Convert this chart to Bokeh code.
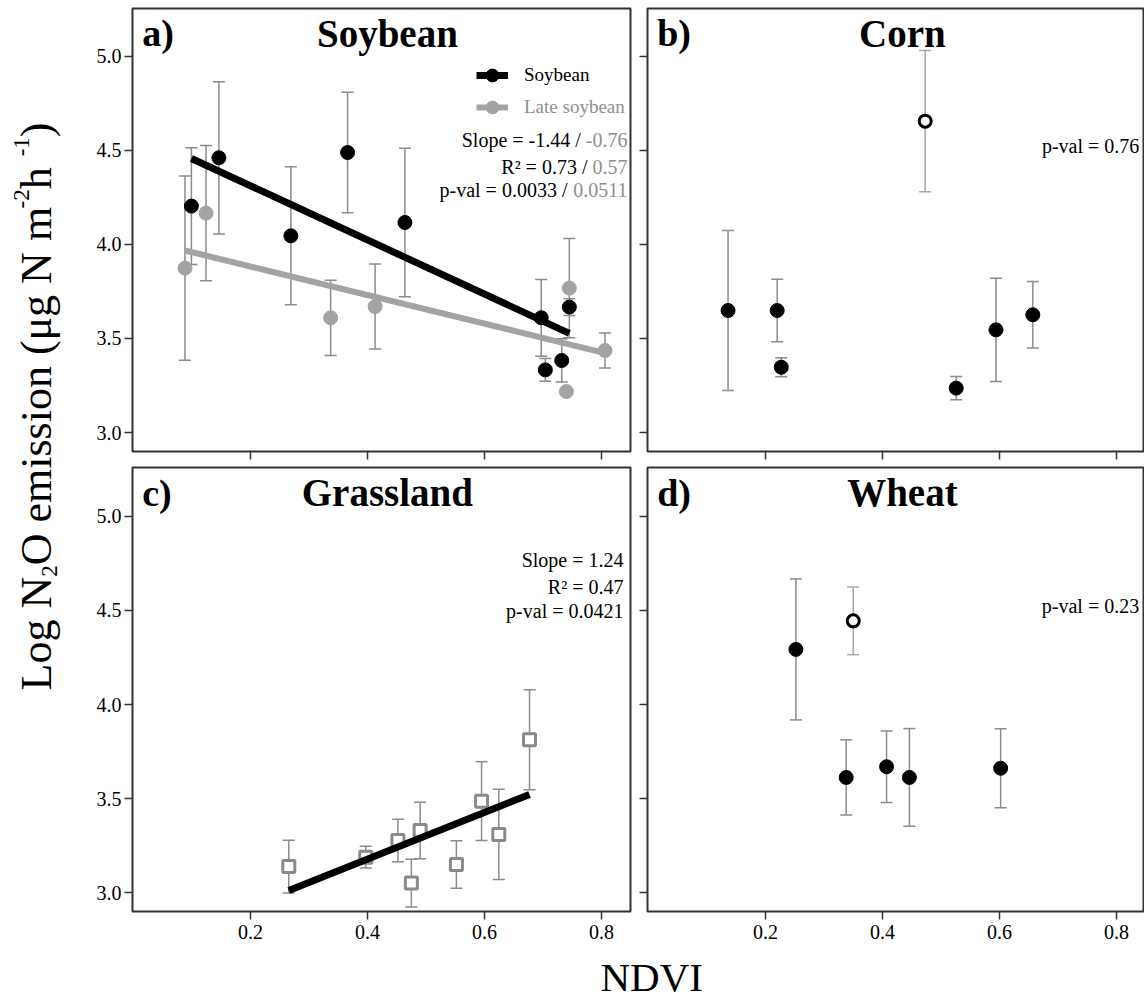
import math
from bokeh.plotting import figure
from bokeh.models import (Range1d, FixedTicker, PrintfTickFormatter, Whisker, TeeHead,
                          ColumnDataSource, Legend, LegendItem)
from bokeh.layouts import row, column
from bokeh.core.properties import value
from bokeh.embed import file_html
from bokeh.resources import INLINE

# ---------------- data ----------------
X_TICKS = [0.2, 0.4, 0.6, 0.8]
Y_TICKS = [3.0, 3.5, 4.0, 4.5, 5.0]

SOY_X = [0.099, 0.146, 0.269, 0.366, 0.464, 0.697, 0.704, 0.732, 0.745]
SOY_Y = [4.204, 4.461, 4.046, 4.489, 4.117, 3.610, 3.333, 3.383, 3.667]
SOY_E = [0.310, 0.405, 0.367, 0.320, 0.395, 0.204, 0.060, 0.115, 0.045]

LATE_X = [0.088, 0.124, 0.337, 0.413, 0.745, 0.740, 0.806]
LATE_Y = [3.874, 4.167, 3.610, 3.670, 3.768, 3.218, 3.436]
LATE_E = [0.490, 0.360, 0.200, 0.226, 0.264, 0.000, 0.093]

CORN_X = [0.136, 0.220, 0.227, 0.526, 0.594, 0.657]
CORN_Y = [3.649, 3.649, 3.347, 3.236, 3.546, 3.626]
CORN_E = [0.425, 0.166, 0.050, 0.062, 0.275, 0.177]
CORN_OUT_X = [0.473]
CORN_OUT_Y = [4.656]
CORN_OUT_E = [0.376]

GRASS_X = [0.2655, 0.397, 0.452, 0.490, 0.475, 0.552, 0.595, 0.6245, 0.677]
GRASS_Y = [3.138, 3.188, 3.277, 3.330, 3.050, 3.149, 3.486, 3.309, 3.812]
GRASS_E = [0.140, 0.058, 0.113, 0.150, 0.127, 0.126, 0.210, 0.240, 0.266]

WHEAT_X = [0.252, 0.338, 0.407, 0.446, 0.602]
WHEAT_Y = [4.293, 3.612, 3.669, 3.612, 3.661]
WHEAT_E = [0.375, 0.200, 0.190, 0.260, 0.210]
WHEAT_OUT_X = [0.350]
WHEAT_OUT_Y = [4.445]
WHEAT_OUT_E = [0.180]

# regression fits (slope, intercept)
SOY_FIT = (-1.44, 4.600)
LATE_FIT = (-0.76, 4.035)
GRASS_FIT = (1.24, 2.682)

TITLES = ["Soybean", "Corn", "Grassland", "Wheat"]
LETTERS = ["a)", "b)", "c)", "d)"]
LEGEND_LABELS = ["Soybean", "Late soybean"]
STATS_A_BLACK = ["Slope = -1.44 / ", "R\u00b2 = 0.73 / ", "p-val = 0.0033 / "]
STATS_A_GRAY = ["-0.76", "0.57", "0.0511"]
STATS_C = ["Slope = 1.24", "R\u00b2 = 0.47", "p-val = 0.0421"]
PVAL_B = ["p-val = 0.76"]
PVAL_D = ["p-val = 0.23"]
Y_LABEL_PARTS = [("Log N", "n"), ("2", "sub"), ("O emission (\u03bcg N m", "n"),
                 ("-2", "sup"), (" h", "n"), ("-1", "sup"), (")", "n")]
X_LABEL = ["NDVI"]

# ---------------- style ----------------
FONT = "Liberation Serif"
GRAY_PT = "#a3a3a3"
GRAY_TXT = "#8f8f8f"
ERR_C = "#8c8c8c"
FRAME_C = "#333333"
ANN_SIZE = 20
MID = 0.3375  # distance (in em) from the alphabetic baseline to the "middle" line

WIDTHS = {' ': 250, '.': 250, '-': 333, '/': 278, '=': 564, '(': 333, ')': 333,
          'L': 611, 'o': 500, 'g': 500, 'N': 722, 'O': 722, 'e': 444, 'm': 778,
          'i': 278, 's': 389, 'n': 500, '\u03bc': 500, 'h': 500}
for d in "0123456789":
    WIDTHS[d] = 500


def tw(s, size):
    return sum(WIDTHS.get(c, 500) for c in s) * size / 1000.0


def panel(width, height, lb, rb, tb, bb, xr, yr, show):
    p = figure(width=width, height=height, x_range=Range1d(*xr), y_range=Range1d(*yr),
               min_border_left=lb, min_border_right=rb, min_border_top=tb,
               min_border_bottom=bb, output_backend="svg", toolbar_location=None,
               tools="", background_fill_color="white", border_fill_color="white")
    p.xgrid.visible = False
    p.ygrid.visible = False
    p.outline_line_color = FRAME_C
    p.outline_line_width = 2
    p.xaxis.ticker = FixedTicker(ticks=X_TICKS)
    p.yaxis.ticker = FixedTicker(ticks=Y_TICKS)
    p.xaxis.formatter = PrintfTickFormatter(format="%.1f")
    p.yaxis.formatter = PrintfTickFormatter(format="%.1f")
    for ax in (p.xaxis[0], p.yaxis[0]):
        ax.axis_line_color = None
        ax.major_tick_out = 8
        ax.major_tick_in = 0
        ax.minor_tick_line_color = None
        ax.major_tick_line_color = FRAME_C
        ax.major_tick_line_width = 1.5
        ax.major_label_text_font = FONT
        ax.major_label_text_font_size = "20px"
        ax.major_label_text_color = "black"
    p.xaxis.major_label_standoff = 5
    p.yaxis.major_label_standoff = 3
    # sides that carry ticks only: labels are not painted at all
    for ax, keep in ((p.xaxis[0], show[0]), (p.yaxis[0], show[1])):
        if not keep:
            ax.major_label_text_color = None
            ax.major_label_text_font_size = "1px"
            ax.major_label_standoff = 0
    return p


def errbars(p, xs, ys, es, color=ERR_C):
    src = ColumnDataSource(dict(x=xs, upper=[y + e for y, e in zip(ys, es)],
                                lower=[y - e for y, e in zip(ys, es)]))
    w = Whisker(source=src, base="x", upper="upper", lower="lower",
                line_color=color, line_width=1.5, level="underlay",
                upper_head=TeeHead(size=12, line_color=color, line_width=1.5),
                lower_head=TeeHead(size=12, line_color=color, line_width=1.5))
    p.add_layout(w)


def fit_line(p, xs, fit, color, lw):
    m, b = fit
    lx = [min(xs), max(xs)]
    ly = [b + m * x for x in lx]
    return p.line(lx, ly, line_color=color, line_width=lw)


def heading(p, i, y):
    p.text(x=[0.0149], y=[y], text=[LETTERS[i]], text_font=value(FONT),
           text_font_size=value("38px"), text_font_style="bold", text_color="black",
           text_align="left", text_baseline="middle")
    p.text(x=[0.434], y=[y], text=[TITLES[i]], text_font=value(FONT),
           text_font_size=value("39px"), text_font_style="bold", text_color="black",
           text_align="center", text_baseline="middle")


def ann(p, x, ys, texts, color="black", xoff=None):
    src = ColumnDataSource(dict(x=[x] * len(ys), y=ys, t=texts,
                                o=xoff if xoff is not None else [0] * len(ys)))
    p.text(x="x", y="y", text="t", source=src, x_offset="o", text_font=value(FONT),
           text_font_size=value("%spx" % ANN_SIZE), text_color=color,
           text_align="right", text_baseline="middle")


XR_L = (-0.0017, 0.8496)
XR_R = (-0.0017, 0.8479)
YR_T = (2.899, 5.255)
YR_B = (2.899, 5.2606)

TOP_H = 460          # figure heights of the top row
BOT_H = 7 + 444 + 38  # figure heights of the bottom row
FULL_H = 1000

# ---------------- panel a ----------------
fa = panel(555, TOP_H, 52, 5, 8, 9, XR_L, YR_T, (False, True))
errbars(fa, SOY_X, SOY_Y, SOY_E)
errbars(fa, LATE_X, LATE_Y, LATE_E)
l_late = fit_line(fa, LATE_X, LATE_FIT, GRAY_PT, 6)
l_soy = fit_line(fa, SOY_X, SOY_FIT, "black", 7)
s_late = fa.scatter(LATE_X, LATE_Y, size=14, fill_color=GRAY_PT, line_color=GRAY_PT)
s_soy = fa.scatter(SOY_X, SOY_Y, size=14, fill_color="black", line_color="black")
heading(fa, 0, 5.1223)
gw = [tw(s, ANN_SIZE) for s in STATS_A_GRAY]
ann(fa, 0.8444, [4.553, 4.411, 4.291], STATS_A_GRAY, color=GRAY_TXT)
ann(fa, 0.8444, [4.553, 4.411, 4.291], STATS_A_BLACK, color="black", xoff=[-w for w in gw])

for lab, rends, col, loc in [(LEGEND_LABELS[0], [l_soy, s_soy], "black", (344, 360)),
                             (LEGEND_LABELS[1], [l_late, s_late], GRAY_TXT, (344, 328))]:
    leg = Legend(items=[LegendItem(label=value(lab), renderers=rends)], location=loc,
                 glyph_width=32, glyph_height=32, label_standoff=16,
                 label_text_font=FONT, label_text_font_size="19px",
                 label_text_color=col, padding=0, margin=0, spacing=0,
                 border_line_color=None, background_fill_alpha=0)
    fa.add_layout(leg)

# ---------------- panel b ----------------
fb = panel(509, TOP_H, 12, 0, 8, 9, XR_R, YR_T, (False, False))
errbars(fb, CORN_X, CORN_Y, CORN_E)
errbars(fb, CORN_OUT_X, CORN_OUT_Y, CORN_OUT_E, color="#a8a8a8")
fb.scatter(CORN_X, CORN_Y, size=14, fill_color="black", line_color="black")
fb.scatter(CORN_OUT_X, CORN_OUT_Y, size=12, fill_color="white", line_color="black",
           line_width=3)
heading(fb, 1, 5.1223)
ann(fb, 0.839, [4.523], PVAL_B)

# ---------------- panel c ----------------
fc = panel(555, BOT_H, 52, 5, 7, 38, XR_L, YR_B, (True, True))
errbars(fc, GRASS_X, GRASS_Y, GRASS_E)
fc.scatter(GRASS_X, GRASS_Y, marker="square", size=12, fill_color="white",
           line_color="#8a8a8a", line_width=3)
fit_line(fc, GRASS_X, GRASS_FIT, "black", 7)
heading(fc, 2, 5.125)
ann(fc, 0.8376, [4.766, 4.624, 4.496], STATS_C)

# ---------------- panel d ----------------
fd = panel(509, BOT_H, 12, 0, 7, 38, XR_R, YR_B, (True, False))
errbars(fd, WHEAT_X, WHEAT_Y, WHEAT_E)
errbars(fd, WHEAT_OUT_X, WHEAT_OUT_Y, WHEAT_OUT_E, color="#a8a8a8")
fd.scatter(WHEAT_X, WHEAT_Y, size=14, fill_color="black", line_color="black")
fd.scatter(WHEAT_OUT_X, WHEAT_OUT_Y, size=12, fill_color="white", line_color="black",
           line_width=3)
heading(fd, 3, 5.125)
ann(fd, 0.8388, [4.523], PVAL_D)

# ---------------- shared y label ----------------
YL_H = TOP_H + BOT_H
fy = figure(width=80, height=YL_H, x_range=Range1d(0, 80), y_range=Range1d(0, YL_H),
            min_border=0, x_axis_location=None, y_axis_location=None,
            output_backend="svg", toolbar_location=None, tools="",
            outline_line_color=None, background_fill_color="white",
            border_fill_color="white")
fy.grid.visible = False
MAIN = 44
SMALL = 23
BASELINE = {"n": 51, "sub": 57, "sup": 29}   # baseline column (px) of each kind of piece
cur = YL_H - 690
xs, ys, ts, fs = [], [], [], []
for txt, kind in Y_LABEL_PARTS:
    size = MAIN if kind == "n" else SMALL
    # rotated 90deg counter-clockwise: the "middle" line lies left of the baseline
    xs.append(BASELINE[kind] - MID * size)
    ys.append(cur)
    ts.append(txt)
    fs.append("%dpx" % size)
    cur += tw(txt, size)
ysrc = ColumnDataSource(dict(x=xs, y=ys, t=ts, f=fs))
fy.text(x="x", y="y", text="t", source=ysrc, angle=math.pi / 2, text_font=value(FONT),
        text_font_size="f", text_color="black", text_align="left",
        text_baseline="middle")

# ---------------- shared x label ----------------
XL_H = FULL_H - YL_H
fx = figure(width=1144, height=XL_H, x_range=Range1d(0, 1144), y_range=Range1d(0, XL_H),
            min_border=0, x_axis_location=None, y_axis_location=None,
            output_backend="svg", toolbar_location=None, tools="",
            outline_line_color=None, background_fill_color="white",
            border_fill_color="white")
fx.grid.visible = False
fx.text(x=[600], y=[FULL_H - 990 + MID * 41], text=X_LABEL, text_font=value(FONT),
        text_font_size=value("41px"), text_color="black", text_align="left",
        text_baseline="middle")

layout = column(row(fy, column(row(fa, fb), row(fc, fd))), fx)

open("out.html", "w").write(file_html(layout, INLINE))
